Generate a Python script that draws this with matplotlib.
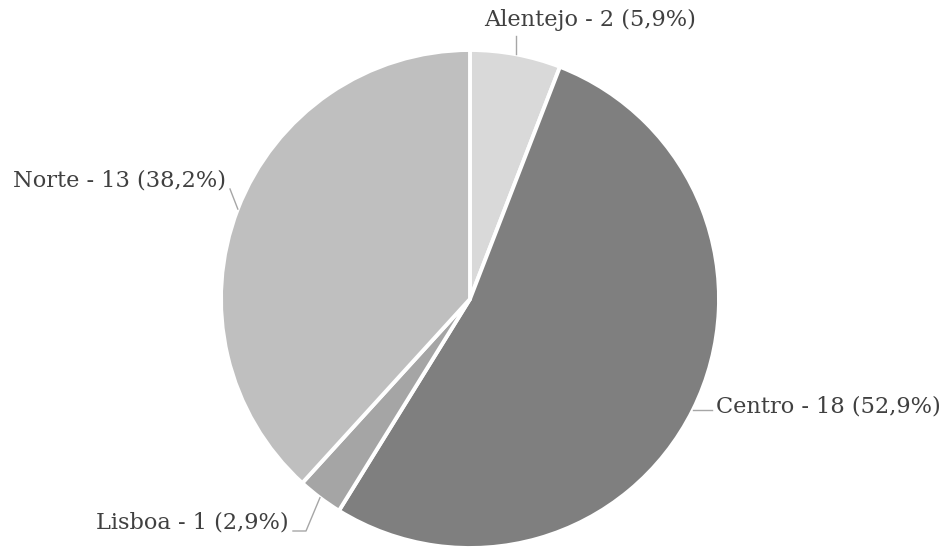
import numpy as np
import matplotlib.pyplot as plt

# data
regions = ['Alentejo', 'Centro', 'Lisboa', 'Norte']
counts = [2, 18, 1, 13]
colors = ['#d9d9d9', '#7f7f7f', '#a5a5a5', '#bfbfbf']

W, H = 946, 550
cx, cy, R = 470, 299, 249

# label text anchor (pixel coords, y from top) and leader-line elbow
label_pos = {
    'Alentejo': (484, 20, 'left'),
    'Norte': (226, 180, 'right'),
    'Centro': (716, 407, 'left'),
    'Lisboa': (289, 522, 'right'),
}
leader_end = {
    'Alentejo': [(None, 36)],
    'Norte': [(230, 189)],
    'Centro': [(712, None)],
    'Lisboa': [(306, 531), (293, 531)],
}

fig = plt.figure(figsize=(W / 100, H / 100), dpi=100)
ax = fig.add_axes([0, 0, 1, 1])

wedges, _ = ax.pie(counts, colors=colors, startangle=90, counterclock=False,
                   center=(cx, H - cy), radius=R,
                   wedgeprops=dict(edgecolor='white', linewidth=2.8))
# pie resets the limits, so set them afterwards
ax.set_xlim(0, W)
ax.set_ylim(0, H)
ax.set_aspect('equal')
ax.axis('off')

total = sum(counts)
text_color = '#404040'
for w, name, n in zip(wedges, regions, counts):
    mid = np.deg2rad((w.theta1 + w.theta2) / 2)
    ax_x = cx + R * np.cos(mid)
    ax_y = cy - R * np.sin(mid)
    pts = [(ax_x, ax_y)]
    for px, py in leader_end[name]:
        pts.append((ax_x if px is None else px, ax_y if py is None else py))
    xs = [p[0] for p in pts]
    ys = [H - p[1] for p in pts]
    ax.plot(xs, ys, color='#a6a6a6', lw=1)
    pct = f'{100 * n / total:.1f}'.replace('.', ',')
    tx, ty, ha = label_pos[name]
    ax.text(tx, H - ty, f'{name} - {n} ({pct}%)', ha=ha, va='center',
            fontsize=16.2, family='DejaVu Serif', color=text_color)

fig.savefig('out.png', dpi=100, facecolor='white')
